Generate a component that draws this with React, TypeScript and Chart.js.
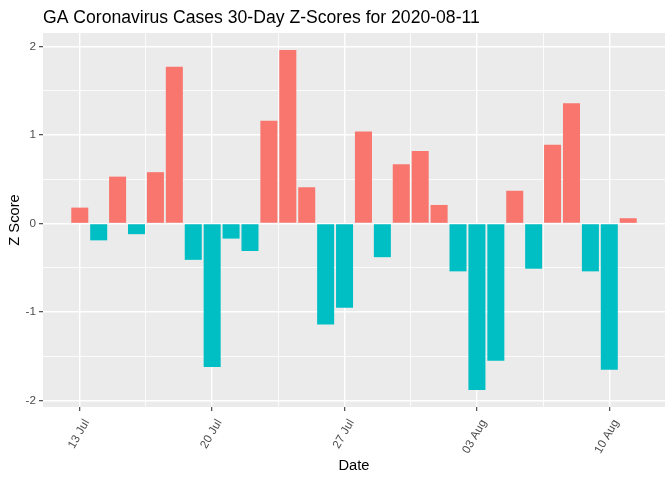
import React, { useEffect, useRef } from 'react';
import { Chart, registerables } from 'chart.js';

Chart.register(...registerables);

const dates = [
  '2020-07-13', '2020-07-14', '2020-07-15', '2020-07-16', '2020-07-17', '2020-07-18', '2020-07-19',
  '2020-07-20', '2020-07-21', '2020-07-22', '2020-07-23', '2020-07-24', '2020-07-25', '2020-07-26',
  '2020-07-27', '2020-07-28', '2020-07-29', '2020-07-30', '2020-07-31', '2020-08-01', '2020-08-02',
  '2020-08-03', '2020-08-04', '2020-08-05', '2020-08-06', '2020-08-07', '2020-08-08', '2020-08-09',
  '2020-08-10', '2020-08-11',
];
const zScores = [
  0.18, -0.19, 0.53, -0.12, 0.58, 1.77, -0.41,
  -1.62, -0.17, -0.31, 1.16, 1.96, 0.41, -1.14,
  -0.95, 1.04, -0.38, 0.67, 0.82, 0.21, -0.54,
  -1.88, -1.55, 0.37, -0.51, 0.89, 1.36, -0.54,
  -1.65, 0.06,
];
const xTickDates = ['2020-07-13', '2020-07-20', '2020-07-27', '2020-08-03', '2020-08-10'];
const xTickLabels = ['13 Jul', '20 Jul', '27 Jul', '03 Aug', '10 Aug'];
const yTickValues = [-2, -1, 0, 1, 2];

const TITLE = 'GA Coronavirus Cases 30-Day Z-Scores for 2020-08-11';
const FONT = '"Liberation Sans", Arial, sans-serif';
const POS_COLOR = '#F8766D';
const NEG_COLOR = '#00BFC4';

const DAY = 86400000;
const t0 = Date.parse(dates[0]);
const dayIndex = (d: string) => Math.round((Date.parse(d) - t0) / DAY);

const xs = dates.map(dayIndex);
const xMajor = xTickDates.map(dayIndex);
const xMinor: number[] = [];
for (let i = 0; i < xMajor.length - 1; i++) xMinor.push((xMajor[i] + xMajor[i + 1]) / 2);
const yMinor: number[] = [];
for (let i = 0; i < yTickValues.length - 1; i++) yMinor.push((yTickValues[i] + yTickValues[i + 1]) / 2);

// ggplot-like expansion
const xLo = Math.min(...xs) - 0.45;
const xHi = Math.max(...xs) + 0.45;
const xMin = xLo - 0.05 * (xHi - xLo);
const xMax = xHi + 0.05 * (xHi - xLo);
const yLo = Math.min(0, ...zScores);
const yHi = Math.max(0, ...zScores);
const yMin = yLo - 0.05 * (yHi - yLo);
const yMax = yHi + 0.05 * (yHi - yLo);

const xAll = [...xMajor, ...xMinor].filter(v => v >= xMin && v <= xMax).sort((a, b) => a - b);
const yAll = [...yTickValues, ...yMinor].filter(v => v >= yMin && v <= yMax).sort((a, b) => a - b);

const isIn = (arr: number[], v: number) => arr.some(a => Math.abs(a - v) < 1e-9);

const panelPlugin = {
  id: 'ggpanel',
  beforeDraw(chart: any) {
    const { ctx, chartArea: a } = chart;
    ctx.save();
    ctx.fillStyle = '#EBEBEB';
    ctx.fillRect(a.left, a.top, a.right - a.left, a.bottom - a.top);
    ctx.restore();
  },
  afterDraw(chart: any) {
    const { ctx, chartArea: a } = chart;
    ctx.save();
    ctx.fillStyle = '#000000';
    ctx.font = `17.6px ${FONT}`;
    ctx.textAlign = 'left';
    ctx.textBaseline = 'alphabetic';
    ctx.fillText(TITLE, a.left, 23);

    ctx.font = `14.7px ${FONT}`;
    ctx.textAlign = 'center';
    ctx.fillText('Date', (a.left + a.right) / 2, 469.5);

    ctx.translate(14.5, (a.top + a.bottom) / 2);
    ctx.rotate(-Math.PI / 2);
    ctx.textBaseline = 'middle';
    ctx.fillText('Z Score', 0, 0);
    ctx.restore();
  },
};

export default function App() {
  const canvasRef = useRef<HTMLCanvasElement | null>(null);

  useEffect(() => {
    if (!canvasRef.current) return;
    const chart = new Chart(canvasRef.current, {
      type: 'bar',
      data: {
        datasets: [
          {
            data: xs.map((x, i) => ({ x, y: zScores[i] })),
            backgroundColor: zScores.map(v => (v >= 0 ? POS_COLOR : NEG_COLOR)),
            borderWidth: 0,
            barPercentage: 0.9,
            categoryPercentage: 1,
          } as any,
        ],
      },
      options: {
        animation: false,
        responsive: true,
        maintainAspectRatio: false,
        layout: { padding: { top: 33, right: 7, left: 0, bottom: 0 } },
        plugins: {
          legend: { display: false },
          tooltip: { enabled: false },
          title: { display: false },
        },
        scales: {
          x: {
            type: 'linear',
            min: xMin,
            max: xMax,
            offset: false,
            border: { display: false },
            grid: {
              offset: false,
              color: '#FFFFFF',
              lineWidth: (c: any) => (isIn(xMajor, c.tick?.value) ? 1.4 : 0.8),
              drawTicks: true,
              tickLength: 4,
              tickColor: (c: any) => (isIn(xMajor, c.tick?.value) ? '#333333' : 'rgba(0,0,0,0)'),
              tickWidth: 1.07,
            },
            ticks: {
              autoSkip: false,
              minRotation: 60,
              maxRotation: 60,
              labelOffset: 7,
              padding: 6,
              color: '#4D4D4D',
              font: { family: FONT, size: 11.7 },
              callback: (v: any) => {
                const idx = xMajor.findIndex(m => Math.abs(m - Number(v)) < 1e-9);
                return idx >= 0 ? xTickLabels[idx] : '';
              },
            },
            afterBuildTicks: (s: any) => {
              s.ticks = xAll.map(v => ({ value: v }));
            },
            afterFit: (s: any) => {
              s.height = 73;
              s.paddingLeft = 0;
              s.paddingRight = 0;
            },
          } as any,
          y: {
            type: 'linear',
            min: yMin,
            max: yMax,
            border: { display: false },
            grid: {
              color: '#FFFFFF',
              lineWidth: (c: any) => (isIn(yTickValues, c.tick?.value) ? 1.4 : 0.8),
              drawTicks: true,
              tickLength: 4,
              tickColor: (c: any) => (isIn(yTickValues, c.tick?.value) ? '#333333' : 'rgba(0,0,0,0)'),
              tickWidth: 1.07,
            },
            ticks: {
              padding: 3,
              color: '#4D4D4D',
              font: { family: FONT, size: 11.7 },
              callback: (v: any) => (isIn(yTickValues, Number(v)) ? String(Math.round(Number(v))) : ''),
            },
            afterBuildTicks: (s: any) => {
              s.ticks = yAll.map(v => ({ value: v }));
            },
            afterFit: (s: any) => {
              s.width = 43;
              s.paddingTop = 0;
              s.paddingBottom = 0;
            },
          } as any,
        },
      },
      plugins: [panelPlugin],
    });
    return () => chart.destroy();
  }, []);

  return (
    <div style={{ position: 'fixed', left: 0, top: 0, width: 672, height: 480, background: '#FFFFFF' }}>
      <canvas ref={canvasRef} />
    </div>
  );
}
